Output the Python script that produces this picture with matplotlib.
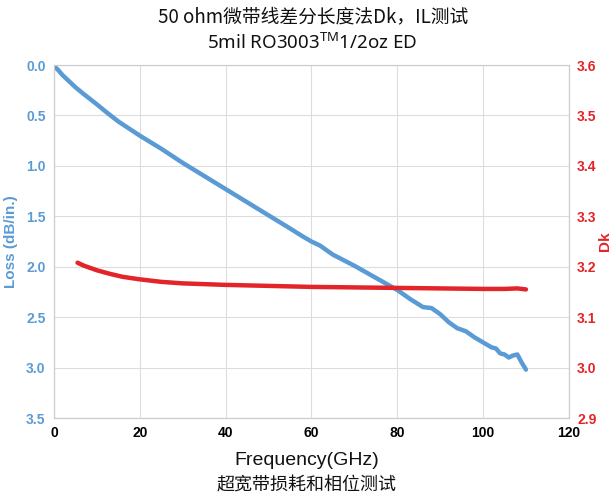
import matplotlib
matplotlib.use("Agg")
import matplotlib.pyplot as plt

plt.rcParams['font.family'] = ['Liberation Sans', 'DejaVu Sans']
plt.rcParams['mathtext.fontset'] = 'custom'
plt.rcParams['mathtext.rm'] = 'Noto Sans'

loss_freq = [0, 1, 2, 3, 5, 7, 10, 12, 15, 20, 25, 30, 35, 40, 45, 50, 55, 58, 60, 62,
             65, 70, 75, 80, 83, 86, 88, 90, 92, 94, 96, 98, 100, 102, 103, 104, 105,
             106, 107, 108, 109, 110]
loss_vals = [0.01, 0.05, 0.10, 0.14, 0.22, 0.29, 0.39, 0.46, 0.56, 0.70, 0.83, 0.97, 1.10,
             1.23, 1.36, 1.49, 1.62, 1.70, 1.75, 1.79, 1.88, 1.99, 2.11, 2.23, 2.32, 2.40,
             2.41, 2.47, 2.55, 2.61, 2.64, 2.70, 2.75, 2.80, 2.81, 2.86, 2.87, 2.90, 2.88,
             2.87, 2.95, 3.02]

dk_freq = [5.5, 7, 10, 13, 16, 20, 25, 30, 40, 50, 60, 70, 80, 90, 100, 105, 108, 110]
dk_vals = [3.208, 3.202, 3.193, 3.186, 3.180, 3.175, 3.170, 3.167, 3.164, 3.162, 3.160,
           3.159, 3.158, 3.157, 3.156, 3.156, 3.157, 3.155]

x_ticks = [0, 20, 40, 60, 80, 100, 120]
loss_ticks = [0.0, 0.5, 1.0, 1.5, 2.0, 2.5, 3.0, 3.5]
dk_ticks = [2.9, 3.0, 3.1, 3.2, 3.3, 3.4, 3.5, 3.6]

blue = '#5b9bd5'
red = '#e32428'
cjk = ['Noto Sans CJK SC', 'DejaVu Sans']

fig = plt.figure(figsize=(6.13, 4.99), dpi=100)
ax = fig.add_axes([0.088, 0.1623, 0.840, 0.7074])
ax2 = ax.twinx()

ax.plot(loss_freq, loss_vals, color=blue, lw=3.2, solid_capstyle='round', zorder=3)
ax2.plot(dk_freq, dk_vals, color=red, lw=3.2, solid_capstyle='round', zorder=3)

ax.set_xlim(0, 120)
ax.set_ylim(3.5, 0.0)
ax2.set_ylim(2.9, 3.6)
ax.set_xticks(x_ticks)
ax.set_yticks(loss_ticks)
ax2.set_yticks(dk_ticks)
ax.set_xticklabels([str(v) for v in x_ticks], fontweight='bold', fontsize=10)
ax.set_yticklabels([f"{v:.1f}" for v in loss_ticks], fontweight='bold', fontsize=10, color=blue)
ax2.set_yticklabels([f"{v:.1f}" for v in dk_ticks], fontweight='bold', fontsize=10, color=red)

ax.grid(True, color='#dddddd', lw=0.8)
ax.set_axisbelow(True)
for a in (ax, ax2):
    for s in a.spines.values():
        s.set_color('#cccccc')
        s.set_linewidth(0.8)
    a.tick_params(length=0, pad=6)

ax.set_ylabel('Loss (dB/in.)', color=blue, fontweight='bold', fontsize=11, labelpad=6)
ax2.set_ylabel('Dk', color=red, fontweight='bold', fontsize=11, labelpad=1)

fig.text(0.5, 0.078, 'Frequency(GHz)', ha='center', va='center', fontsize=14, color='#111111')
fig.text(0.5, 0.028, '超宽带损耗和相位测试', ha='center', va='center', fontsize=13,
         color='#111111', family=cjk)
fig.text(0.51, 0.966, '50 ohm微带线差分长度法Dk，IL测试', ha='center', va='center', fontsize=13.5,
         color='#111111', family=cjk)
fig.text(0.51, 0.914, r'5mil RO3003$^{\mathrm{TM}}$1/2oz ED', ha='center', va='center', fontsize=13.5,
         color='#111111', family=['Noto Sans', 'DejaVu Sans'])

fig.savefig('out.png', dpi=100)
